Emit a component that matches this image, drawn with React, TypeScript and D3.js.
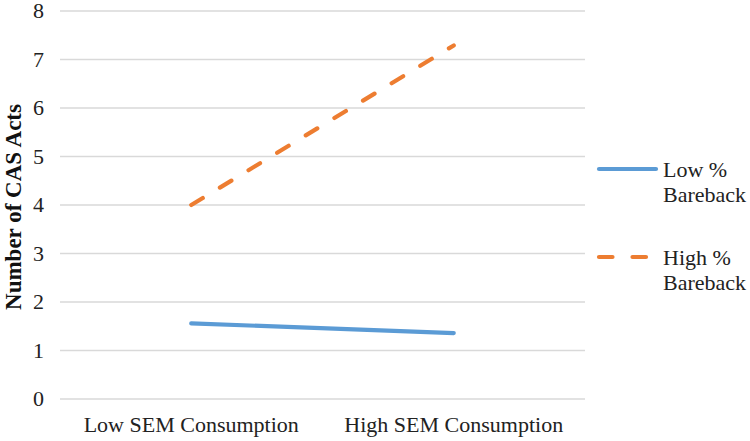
import React from "react";
import * as d3 from "d3";

const categories = ["Low SEM Consumption", "High SEM Consumption"];
const lowBareback = [1.56, 1.36];
const highBareback = [4.0, 7.29];
const yTicks = [0, 1, 2, 3, 4, 5, 6, 7, 8];
const seriesNames = ["Low % Bareback", "High % Bareback"];

export default function App() {
  const W = 750, H = 441;
  const left = 60, right = 585, top = 11, bottom = 399;
  const x = d3.scaleBand().domain(categories).range([left, right]);
  const y = d3.scaleLinear().domain([0, 8]).range([bottom, top]);
  const line = d3
    .line<number>()
    .x((_, i) => (x(categories[i]) as number) + x.bandwidth() / 2)
    .y((d) => y(d));
  const font = '"Liberation Serif", "Times New Roman", Times, "DejaVu Serif", serif';
  const txt: React.CSSProperties = { fontFamily: font };
  const fs = 22;
  return (
    <svg width={W} height={H} style={{ position: "absolute", left: 0, top: 0, background: "#fff" }}>
      <rect width={W} height={H} fill="#fff" />
      {yTicks.map((t) => (
        <g key={t}>
          <line x1={left} x2={right} y1={y(t)} y2={y(t)} stroke="#D9D9D9" strokeWidth={1.3} />
          <text x={44} y={y(t)} dy="0.34em" textAnchor="end" style={txt} fontSize={fs} fill="#222">
            {t}
          </text>
        </g>
      ))}
      {categories.map((c) => (
        <text
          key={c}
          x={(x(c) as number) + x.bandwidth() / 2}
          y={432}
          textAnchor="middle"
          style={txt}
          fontSize={fs}
          fill="#222"
        >
          {c}
        </text>
      ))}
      <text
        transform={`translate(21,207) rotate(-90)`}
        textAnchor="middle"
        style={txt}
        fontSize={23}
        fontWeight="bold"
        fill="#111"
      >
        Number of CAS Acts
      </text>
      <path d={line(lowBareback) || ""} fill="none" stroke="#5B9BD5" strokeWidth={4.2} strokeLinecap="round" />
      <path
        d={line(highBareback) || ""}
        fill="none"
        stroke="#ED7D31"
        strokeWidth={4.2}
        strokeLinecap="round"
        strokeDasharray="13.5 20"
      />
      <line x1={599} x2={656} y1={169} y2={169} stroke="#5B9BD5" strokeWidth={4.2} strokeLinecap="round" />
      <line
        x1={599}
        x2={656}
        y1={257}
        y2={257}
        stroke="#ED7D31"
        strokeWidth={4.2}
        strokeLinecap="round"
        strokeDasharray="13.5 20"
      />
      <text style={txt} fontSize={fs} fill="#222">
        <tspan x={663} y={177}>Low %</tspan>
        <tspan x={663} y={202}>Bareback</tspan>
      </text>
      <text style={txt} fontSize={fs} fill="#222">
        <tspan x={663} y={265}>High %</tspan>
        <tspan x={663} y={290}>Bareback</tspan>
      </text>
      <title>{seriesNames.join(", ")}</title>
    </svg>
  );
}
